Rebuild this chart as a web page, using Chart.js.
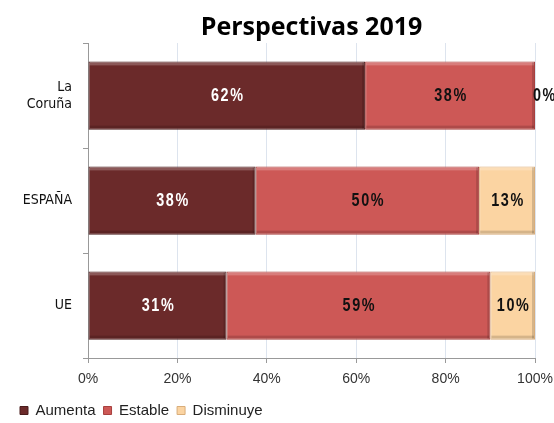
<!DOCTYPE html>
<html><head><meta charset="utf-8">
<script src="https://cdn.jsdelivr.net/npm/chart.js@4/dist/chart.umd.min.js"></script>
<style>html,body{margin:0;padding:0;background:#fff}#wrap{width:554px;height:423px}</style>
</head><body><div id="wrap"><canvas id="c" width="554" height="423"></canvas></div>
<script>
const categories = [["La", "Coruña"], "ESPAÑA", "UE"];
const seriesNames = ["Aumenta", "Estable", "Disminuye"];
const aumenta = [62, 37.5, 31];
const estable = [38, 50, 59];
const disminuye = [0, 12.5, 10];
const xTickValues = [0, 20, 40, 60, 80, 100];

const fills = ["#6B2A2A", "#CD5856", "#FBD4A2"];
const borders = ["#4a1c1c", "#a8403e", "#d9ad7a"];
const labelColors = ["#ffffff", "#111111", "#111111"];

const bevel = {
  id: "bevel",
  afterDatasetsDraw(chart) {
    const ctx = chart.ctx;
    ctx.save();
    chart.data.datasets.forEach((ds, di) => {
      chart.getDatasetMeta(di).data.forEach((el) => {
        const x0 = Math.min(el.x, el.base), x1 = Math.max(el.x, el.base);
        const y0 = el.y - el.height / 2, y1 = el.y + el.height / 2;
        if (x1 - x0 < 1) return;
        ctx.fillStyle = "rgba(255,255,255,0.22)";
        ctx.fillRect(x0 + 1, y0 + 1, x1 - x0 - 2, 3);
        ctx.fillStyle = "rgba(0,0,0,0.15)";
        ctx.fillRect(x0 + 1, y1 - 4, x1 - x0 - 2, 3);
        ctx.fillRect(x1 - 3, y0 + 1, 2, y1 - y0 - 2);
      });
    });
    ctx.restore();
  }
};

const barLabels = {
  id: "barLabels",
  afterDatasetsDraw(chart) {
    const ctx = chart.ctx;
    const sx = 0.8;
    ctx.save();
    ctx.font = "bold 18px 'Liberation Sans'";
    ctx.letterSpacing = "2px";
    ctx.textBaseline = "middle";
    chart.data.datasets.forEach((ds, di) => {
      const meta = chart.getDatasetMeta(di);
      meta.data.forEach((el, i) => {
        const v = ds.data[i];
        const txt = Math.round(v) + "%";
        ctx.fillStyle = labelColors[di];
        const w = ctx.measureText(txt).width;
        let cx = v === 0 ? el.x - 2 + w * sx / 2 : (el.x + el.base) / 2 + 1;
        ctx.save();
        ctx.translate(cx, el.y + 1);
        ctx.scale(sx, 1);
        ctx.textAlign = "center";
        ctx.fillText(txt, 0, 0);
        ctx.restore();
      });
    });
    ctx.restore();
  }
};

new Chart(document.getElementById("c"), {
  type: "bar",
  data: {
    labels: categories,
    datasets: [
      { label: seriesNames[0], data: aumenta },
      { label: seriesNames[1], data: estable },
      { label: seriesNames[2], data: disminuye }
    ].map((d, i) => Object.assign(d, {
      backgroundColor: fills[i], borderColor: borders[i], borderWidth: 1,
      borderSkipped: false, categoryPercentage: 1, barPercentage: 0.65
    }))
  },
  options: {
    indexAxis: "y",
    responsive: false,
    animation: false,
    devicePixelRatio: 1,
    layout: { padding: { left: 12, right: 19, top: 0, bottom: -5 } },
    plugins: {
      title: {
        display: true, text: "Perspectivas 2019", fullSize: false,
        color: "#000", font: { family: "Open Sans", weight: "bold", size: 25 },
        padding: { top: 13, bottom: 0 }
      },
      legend: {
        position: "bottom", align: "start",
        labels: {
          boxWidth: 8, boxHeight: 8, padding: 8, color: "#222",
          font: { family: "Liberation Sans", size: 15 }
        }
      },
      tooltip: { enabled: false }
    },
    scales: {
      x: {
        stacked: true, min: 0, max: 100,
        afterBuildTicks: (s) => { s.ticks = xTickValues.map(v => ({ value: v })); },
        ticks: { callback: (v) => v + "%", color: "#333", font: { family: "Liberation Sans", size: 14 }, padding: 8, maxRotation: 0 },
        grid: { color: "#dde4ee", tickColor: "#999", tickLength: 5 },
        border: { color: "#999" },
        afterFit: (s) => { s.height = 37; s.paddingLeft = 0; s.paddingRight = 0; }
      },
      y: {
        stacked: true,
        ticks: { color: "#111", font: { family: "'DejaVu Sans Condensed', 'Liberation Sans'", size: 14 }, padding: 11 },
        grid: { drawOnChartArea: false, tickColor: "#999", tickLength: 5, offset: true },
        border: { color: "#999" },
        afterFit: (s) => { s.width = 76; s.paddingTop = 0; s.paddingBottom = 0; }
      }
    }
  },
  plugins: [bevel, barLabels]
});
</script></body></html>
